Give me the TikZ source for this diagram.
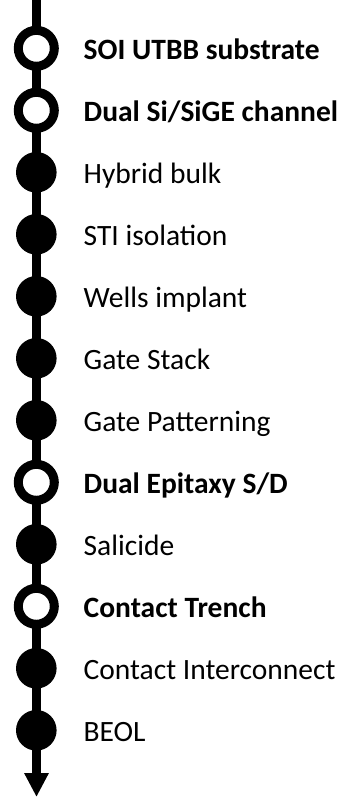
\documentclass[tikz,border=0pt]{standalone}
\usepackage{fontspec}
\setmainfont{Carlito}
\usetikzlibrary{arrows.meta}
\definecolor{StepClr}{rgb}{0,0,0}

\tikzset{
  newstep/.style={circle,draw=StepClr,line width=9pt,fill=white,inner sep=0pt,minimum size=36pt},
  oldstep/.style={circle,fill=StepClr,inner sep=0pt,minimum size=40.6pt},
  steplbl/.style={anchor=base west,inner sep=0pt,font=\fontsize{29.5}{34}\selectfont},
}

\begin{document}
\begin{tikzpicture}[x=1pt,y=-1pt]
\useasboundingbox (0,0) rectangle (341,797);

\coordinate (top) at (36.5,0);
\coordinate (bot) at (36.5,797);
\draw[line width=8.3pt,StepClr,-{Triangle[width=23pt,length=24pt]}] (top) -- (bot);

\node[newstep] (s1) at (36.3,48.3) {};
\node[newstep] (s2) at (36.3,110.3) {};
\node[oldstep] (s3) at (36.3,172.3) {};
\node[oldstep] (s4) at (36.3,234.3) {};
\node[oldstep] (s5) at (36.3,296.3) {};
\node[oldstep] (s6) at (36.3,358.3) {};
\node[oldstep] (s7) at (36.3,420.3) {};
\node[newstep] (s8) at (36.3,482.3) {};
\node[oldstep] (s9) at (36.3,544.3) {};
\node[newstep] (s10) at (36.3,606.3) {};
\node[oldstep] (s11) at (36.3,668.3) {};
\node[oldstep] (s12) at (36.3,730.3) {};

\node[steplbl] (l1) at (83.5,59.8) {\bfseries SOI UTBB substrate};
\node[steplbl] (l2) at (83.5,121.8) {\bfseries Dual Si/SiGE channel};
\node[steplbl] (l3) at (83.5,183.8) {Hybrid bulk};
\node[steplbl] (l4) at (83.5,245.8) {STI isolation};
\node[steplbl] (l5) at (83.5,307.8) {Wells implant};
\node[steplbl] (l6) at (83.5,369.8) {Gate Stack};
\node[steplbl] (l7) at (83.5,431.8) {Gate Patterning};
\node[steplbl] (l8) at (83.5,493.8) {\bfseries Dual Epitaxy S/D};
\node[steplbl] (l9) at (83.5,555.8) {Salicide};
\node[steplbl] (l10) at (83.5,617.8) {\bfseries Contact Trench};
\node[steplbl] (l11) at (83.5,679.8) {Contact Interconnect};
\node[steplbl] (l12) at (83.5,741.8) {BEOL};

\end{tikzpicture}
\end{document}
